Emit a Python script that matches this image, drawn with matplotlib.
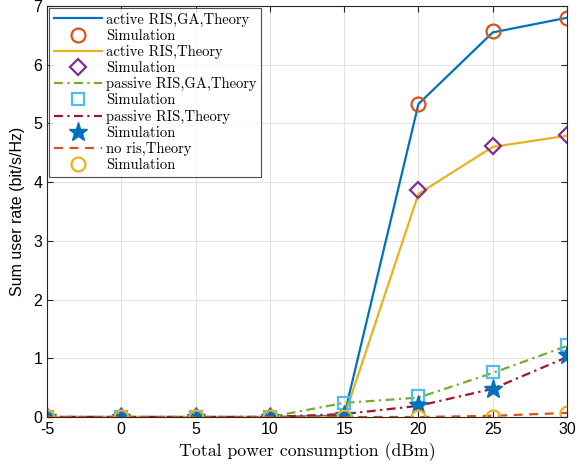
import matplotlib
matplotlib.use("Agg")
import matplotlib.pyplot as plt

plt.rcParams["font.family"] = ["Liberation Sans", "DejaVu Sans"]
plt.rcParams["axes.unicode_minus"] = False

# total power consumption (dBm)
power = [-5, 0, 5, 10, 15, 20, 25, 30]

# theory curves
active_ga_theory = [0, 0, 0, 0, 0.02, 5.33, 6.55, 6.80]
active_theory = [0, 0, 0, 0, 0.0, 3.80, 4.60, 4.79]
passive_ga_theory = [0, 0, 0, 0, 0.24, 0.33, 0.75, 1.21]
passive_theory = [0, 0, 0, 0, 0.05, 0.19, 0.48, 1.02]
noris_theory = [0, 0, 0, 0, 0.0, 0.0, 0.02, 0.07]

# simulation points
active_ga_sim = [0, 0, 0, 0, 0.0, 5.33, 6.57, 6.79]
active_sim = [0, 0, 0, 0, 0.0, 3.86, 4.62, 4.81]
passive_ga_sim = [0, 0, 0, 0, 0.24, 0.35, 0.77, 1.22]
passive_sim = [0, 0, 0, 0, 0.03, 0.20, 0.48, 1.05]
noris_sim = [0, 0, 0, 0, 0.0, 0.0, 0.0, 0.07]

BLUE = "#0072BD"
ORANGE = "#D95319"
YELLOW = "#EDB120"
PURPLE = "#7E2F8E"
GREEN = "#77AC30"
CYAN = "#4DBEEE"
MAROON = "#A2142F"

CM = "cmr10"  # Computer Modern shipped with matplotlib

fig = plt.figure(figsize=(5.77, 4.69), dpi=100)
ax = fig.add_axes([47 / 577, 1 - 417 / 469, 520 / 577, 411 / 469])

lw = 1.6
mew = 1.6
ms = 10
dashdot = (4, 2, 1, 2)
ax.plot(power, active_ga_theory, "-", color=BLUE, lw=lw, label="active RIS,GA,Theory")
ax.plot(power, active_ga_sim, "o", color=ORANGE, ms=ms, mfc="none", mew=mew, label="Simulation")
ax.plot(power, active_theory, "-", color=YELLOW, lw=lw, label="active RIS,Theory")
ax.plot(power, active_sim, "D", color=PURPLE, ms=8.5, mfc="none", mew=mew, label="Simulation")
ax.plot(power, passive_ga_theory, color=GREEN, lw=lw, dashes=dashdot, label="passive RIS,GA,Theory")
ax.plot(power, passive_ga_sim, "s", color=CYAN, ms=8, mfc="none", mew=mew, label="Simulation")
ax.plot(power, passive_theory, color=MAROON, lw=lw, dashes=dashdot, label="passive RIS,Theory")
ax.plot(power, passive_sim, "*", color=BLUE, ms=14, label="Simulation")
ax.plot(power, noris_theory, "--", color=ORANGE, lw=lw, dashes=(4, 3), label="no ris,Theory")
ax.plot(power, noris_sim, "o", color=YELLOW, ms=ms, mfc="none", mew=mew, label="Simulation")

ax.set_xlim(-5, 30)
ax.set_ylim(0, 7)
ax.set_xticks(power)
ax.set_xticklabels([str(p) for p in power])
ax.set_yticks(range(8))
ax.tick_params(direction="in", top=True, right=True, labelsize=11.5, length=4,
               color="#262626")
ax.grid(True, color="#e3e3e3", lw=0.8)
ax.set_axisbelow(True)
for s in ax.spines.values():
    s.set_color("#262626")
    s.set_linewidth(0.8)

ax.set_xlabel("Total power consumption (dBm)", fontsize=12.8, family=CM, labelpad=4)
ax.set_ylabel("Sum user rate (bit/s/Hz)", fontsize=11.5, labelpad=6)

leg = ax.legend(loc="upper left", prop={"family": CM, "size": 10.5}, frameon=True,
                fancybox=False, borderaxespad=0.15, handlelength=3.3, labelspacing=0.16,
                borderpad=0.3, handletextpad=0.3, edgecolor="#262626")
leg.get_frame().set_linewidth(0.8)

fig.savefig("out.png", dpi=100)
